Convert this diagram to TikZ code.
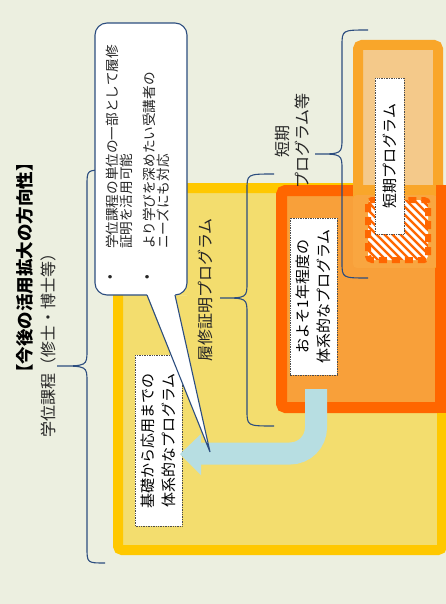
\documentclass[tikz,border=0pt]{standalone}
\usepackage{fontspec}
\setmainfont{Noto Sans CJK JP}
\definecolor{bgc}{HTML}{ECEFE0}
\definecolor{yelfill}{HTML}{F3DD6E}
\definecolor{yelbord}{HTML}{FFC800}
\definecolor{orbord}{HTML}{FF6600}
\definecolor{orfill}{HTML}{F8A03A}
\definecolor{shout}{HTML}{F9A62A}
\definecolor{shin}{HTML}{F4C98A}
\definecolor{ovl}{HTML}{F9A640}
\definecolor{bluec}{HTML}{B7DEE2}
\definecolor{bracec}{HTML}{2C4D7F}
\newcommand{\mybrace}[7]{%
  \draw[bracestyle] (#1,#4) .. controls (#2,#4) .. (#2,#4+#7) -- (#2,#5-#7)
    .. controls (#2,#5) .. (#3,#5) .. controls (#2,#5) .. (#2,#5+#7)
    -- (#2,#6-#7) .. controls (#2,#6) .. (#1,#6);}
\begin{document}
\begin{tikzpicture}[x=1pt,y=-1pt,
  bracestyle/.style={draw=bracec,line width=1.1pt},
  tbox/.style={draw=black!70,densely dotted,line width=0.7pt,fill=white,rotate=90,
    align=center,inner sep=0pt,font=\fontsize{15}{21}\selectfont},
  lbl/.style={rotate=90,align=center,inner sep=0pt,font=\fontsize{16}{20}\selectfont,text=black!85},
  ctext/.style={rotate=90,anchor=west,inner sep=0pt,font=\fontsize{13.6}{15}\selectfont,text=black!85}]
\useasboundingbox (0,0) rectangle (446,604);
\clip (0,0) rectangle (446,604);
\fill[bgc] (0,0) rectangle (446,604);
% yellow box
\filldraw[draw=yelbord,fill=yelfill,line width=10pt,rounded corners=4] (118,188) rectangle (442,550);
% orange box
\filldraw[draw=orbord,fill=orfill,line width=11pt,rounded corners=4] (281.5,190.5) rectangle (440.5,407.5);
% short program box
\filldraw[draw=shout,fill=shin,line width=10pt,rounded corners=4] (358,45) rectangle (438,263);
\fill[ovl,rounded corners=4] (353,195) rectangle (437,268);
\fill[shout] (353,185) rectangle (437,195);
\fill[orbord] (436,185) rectangle (446,413);
% hatched area
\begin{scope}
  \clip[rounded corners=4] (368,200) rectangle (428,260);
  \fill[orbord] (368,200) rectangle (428,260);
  \foreach \k in {-80,-72,...,80}{
    \draw[white,line width=3pt] (368+\k,190) -- (368+\k+80,270);
  }
\end{scope}
\draw[orbord,line width=6pt,dash pattern=on 8pt off 5pt,rounded corners=4] (368,200) rectangle (428,260);
% text boxes
\node[tbox,minimum width=156,minimum height=29] (tshort) at (389.5,156) {短期プログラム};
\node[tbox,minimum width=157,minimum height=47] (tyear) at (313.5,296.5) {およそ1年程度の\\体系的なプログラム};
\node[tbox,minimum width=171,minimum height=47] (tbase) at (158.5,440.5) {基礎から応用までの\\体系的なプログラム};
% braces
\mybrace{105}{87}{57}{170}{366}{563}{16}
\mybrace{274}{247}{220}{174}{298}{426}{16}
\mybrace{368}{342}{315}{30}{154}{278}{16}
% blue arrow
\coordinate (as) at (316,389);
\coordinate (ac) at (316,453.5);
\coordinate (ae) at (199,453.5);
\draw[bluec,line width=22pt,rounded corners=26] (as) -- (ac) -- (ae);
\fill[bluec] (201,434) -- (180,454) -- (201,475) -- cycle;
% callout
\fill[white,rounded corners=12] (175,295) -- (187,295) -- (187,23) -- (95,23) -- (95,295) -- (147,295) -- cycle;
\draw[bracec,line width=1.1pt,rounded corners=12] (175,295) -- (187,295) -- (187,23) -- (95,23) -- (95,295) -- (147,295);
\coordinate (ptip) at (210,452);
\fill[white] (147,294) -- (ptip) -- (175,294) -- cycle;
\draw[bracec,line width=1.1pt] (147,295) -- (ptip) -- (175,295);
\node[ctext] (b1) at (112,280) {•};
\node[ctext] (c1) at (112,249) {学位課程の単位の一部として履修};
\node[ctext] (c2) at (126,249) {証明を活用可能};
\node[ctext] (b2) at (149,280) {•};
\node[ctext] (c3) at (149,249) {より学びを深めたい受講者の};
\node[ctext] (c4) at (163,249) {ニーズにも対応};
% labels
\node[lbl,font=\fontsize{17.5}{20}\selectfont\bfseries,text=black] (title) at (25,268) {【今後の活用拡大の方向性】};
\node[lbl] (ldeg) at (48,341) {学位課程（修士・博士等）};
\node[lbl] (lcert) at (205,290) {履修証明プログラム};
\node[lbl] (lshort) at (292,141) {短期\\プログラム等};
\end{tikzpicture}
\end{document}
